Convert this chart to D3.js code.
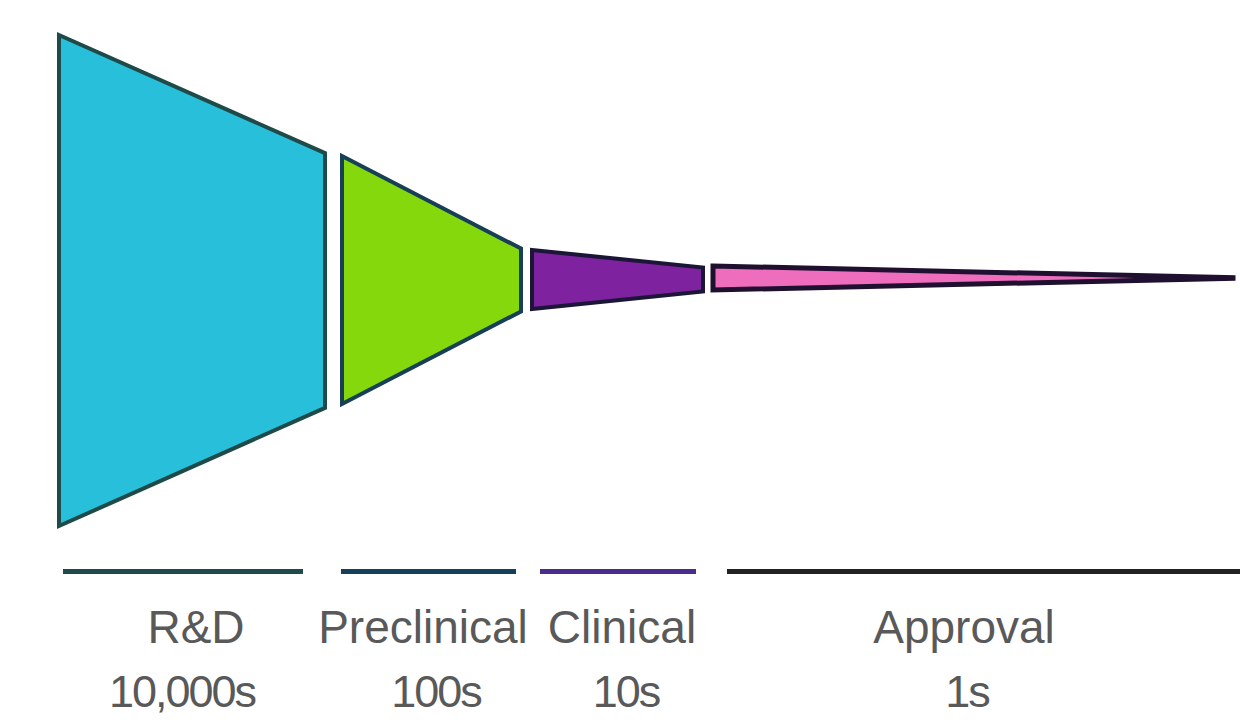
<!DOCTYPE html>
<html>
<head>
<meta charset="utf-8">
<script src="https://cdn.jsdelivr.net/npm/d3@7"></script>
<style>
  html, body { margin: 0; padding: 0; background: #ffffff; }
  svg { display: block; }
</style>
</head>
<body>
<svg id="chart" width="1240" height="722"></svg>
<script>
// Drug development funnel: how many candidates remain at each stage.
const stages = ["R&D", "Preclinical", "Clinical", "Approval"];
const counts = ["10,000s", "100s", "10s", "1s"];
// Funnel opening at the start and end of each stage, as % of the initial pool width
const startWidth = [100, 50.5, 12.0, 4.9];
const endWidth   = [51.9, 12.8, 4.9, 0.1];

const fills   = ["#27bfd9", "#84d80c", "#7e22a0", "#ee6dbd"];
const strokes = ["#1f4a4a", "#173f55", "#1b1638", "#1f1030"];
const rules   = ["#1f4a4a", "#15405a", "#4a2c8c", "#222222"];

// Layout
const W = 1240, H = 722;
const centerY = [280.5, 280, 279.5, 278];
const segX   = [[59, 325], [342, 521], [532, 703], [713, 1233]];
const strokeW = [4, 4, 4, 5];
const ruleX  = [[63, 303], [341, 516], [540, 696], [727, 1242]];
const labelX = [196, 423, 622, 964];
const countX = [182, 436, 626, 967];

const svg = d3.select("#chart");

// Vertical extent of the funnel opening (percent -> pixels)
const h = d3.scaleLinear().domain([0, 100]).range([0, 491]);

const line = d3.line();

stages.forEach((s, i) => {
  const [x0, x1] = segX[i];
  const a = h(startWidth[i]) / 2, b = h(endWidth[i]) / 2;
  const cy = centerY[i];
  const pts = [
    [x0, cy - a], [x1, cy - b],
    [x1, cy + b], [x0, cy + a]
  ];
  svg.append("path")
    .attr("d", line(pts) + "Z")
    .attr("fill", fills[i])
    .attr("stroke", strokes[i])
    .attr("stroke-width", strokeW[i])
    .attr("stroke-linejoin", "miter")
    .attr("stroke-miterlimit", 4);
});

// Stage rules under the funnel
stages.forEach((s, i) => {
  svg.append("line")
    .attr("x1", ruleX[i][0]).attr("x2", ruleX[i][1])
    .attr("y1", 571.5).attr("y2", 571.5)
    .attr("stroke", rules[i])
    .attr("stroke-width", 5);
});

// Stage names and counts
const font = "'Liberation Sans', Arial, sans-serif";
svg.selectAll("text.stage")
  .data(stages)
  .join("text")
  .attr("class", "stage")
  .attr("x", (d, i) => labelX[i])
  .attr("y", 643)
  .attr("text-anchor", "middle")
  .attr("font-family", font)
  .attr("font-size", 46)
  .attr("fill", "#595959")
  .text(d => d);

svg.selectAll("text.count")
  .data(counts)
  .join("text")
  .attr("class", "count")
  .attr("x", (d, i) => countX[i])
  .attr("y", 707)
  .attr("text-anchor", "middle")
  .attr("font-family", font)
  .attr("font-size", 45)
  .attr("letter-spacing", -2)
  .attr("fill", "#595959")
  .text(d => d);
</script>
</body>
</html>
